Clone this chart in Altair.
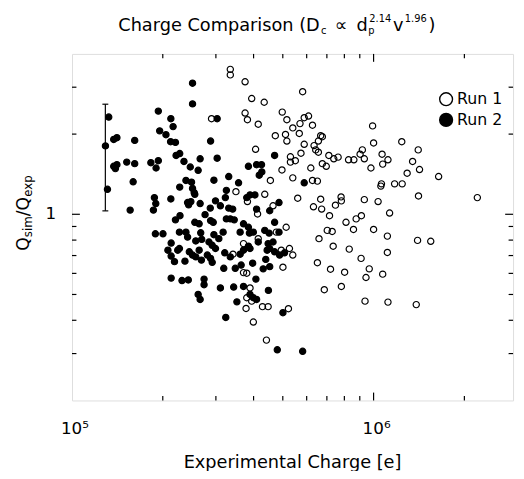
import altair as alt
import pandas as pd

# ---------------- data ----------------
run1_charge = [3.349e5, 3.349e5, 3.749e5, 3.943e5, 4.338e5, 3.749e5, 3.817e5, 4.145e5, 4.979e5, 5.158e5,
               5.396e5, 4.722e5, 5.104e5, 5.158e5, 4.062e5, 5.300e5, 5.300e5, 4.968e5, 5.396e5, 4.548e5,
               3.496e5, 4.357e5, 3.817e5, 4.641e5, 4.124e5, 5.130e5, 4.759e5, 4.145e5, 3.704e5, 5.260e5,
               2.902e5, 4.942e5, 5.396e5, 3.418e5, 3.704e5, 3.797e5, 5.005e5, 3.893e5, 3.797e5, 3.943e5,
               3.777e5, 4.282e5, 4.470e5, 5.220e5, 3.993e5, 4.413e5, 5.818e5, 5.888e5, 6.086e5, 6.272e5,
               5.701e5, 5.671e5, 6.676e5, 6.762e5, 6.561e5, 5.888e5, 6.348e5, 6.429e5, 6.561e5, 5.744e5,
               5.502e5, 7.106e5, 7.379e5, 7.627e5, 6.762e5, 6.968e5, 6.192e5, 8.260e5, 8.603e5, 9.021e5,
               9.178e5, 9.317e5, 9.925e5, 1.000e6, 1.067e6, 1.116e6, 1.072e6, 9.799e5, 1.240e6, 1.406e6,
               1.347e6, 1.420e6, 1.292e6, 1.643e6, 6.272e5, 6.512e5, 1.062e6, 1.057e6, 1.174e6, 1.244e6,
               1.409e6, 2.208e6, 5.603e5, 6.676e5, 6.319e5, 6.727e5, 7.802e5, 7.819e5, 7.473e5, 9.317e5,
               1.035e6, 7.143e5, 8.101e5, 8.754e5, 9.111e5, 1.130e6, 7.021e5, 7.290e5, 8.577e5, 1.000e6,
               6.592e5, 1.111e6, 1.399e6, 1.547e6, 7.345e5, 8.304e5, 1.111e6, 9.090e5, 6.512e5, 7.198e5,
               8.016e5, 9.674e5, 9.437e5, 1.072e6, 6.864e5, 7.819e5, 9.367e5, 1.116e6, 1.385e6]
run1_ratio = [3.500, 3.337, 3.144, 2.720, 2.634, 2.399, 2.265, 2.178, 2.419, 2.265,
              2.110, 1.972, 1.994, 1.884, 1.754, 1.644, 1.570, 1.467, 1.370, 1.340,
              1.216, 1.189, 1.116, 1.076, 1.003, 0.894, 0.857, 0.810, 0.776, 0.744,
              2.285, 0.733, 0.703, 0.708, 0.604, 0.601, 0.633, 0.529, 0.486, 0.472,
              0.443, 0.450, 0.450, 0.442, 0.394, 0.337, 2.886, 2.304, 2.338, 2.160,
              2.190, 2.011, 1.972, 1.955, 1.884, 1.831, 1.811, 1.745, 1.710, 1.696,
              1.589, 1.663, 1.616, 1.639, 1.549, 1.514, 1.492, 1.602, 1.602, 1.681,
              1.745, 1.616, 2.147, 1.853, 1.681, 1.602, 1.543, 1.492, 1.873, 1.745,
              1.579, 1.472, 1.426, 1.386, 1.340, 1.332, 1.301, 1.276, 1.301, 1.301,
              1.172, 1.155, 1.149, 1.139, 1.067, 1.046, 1.162, 1.123, 1.082, 1.135,
              1.116, 0.988, 0.933, 0.961, 0.988, 1.011, 0.870, 0.862, 0.877, 0.877,
              0.810, 0.828, 0.798, 0.792, 0.759, 0.740, 0.719, 0.683, 0.658, 0.622,
              0.606, 0.624, 0.579, 0.596, 0.521, 0.536, 0.472, 0.468, 0.458]

run2_charge = [2.510e5, 2.510e5, 1.324e5, 1.933e5, 2.127e5, 2.164e5, 1.953e5, 2.049e5, 1.375e5, 1.409e5,
               1.291e5, 1.614e5, 2.123e5, 2.203e5, 2.881e5, 3.029e5, 2.214e5, 2.276e5, 2.660e5, 3.029e5,
               2.351e5, 1.375e5, 1.409e5, 1.393e5, 1.519e5, 1.614e5, 1.826e5, 1.933e5, 1.900e5, 2.467e5,
               2.620e5, 1.595e5, 1.311e5, 2.387e5, 2.491e5, 2.955e5, 3.309e5, 3.567e5, 2.276e5, 2.510e5,
               2.542e5, 2.554e5, 1.876e5, 1.896e5, 1.862e5, 2.127e5, 1.559e5, 2.417e5, 2.478e5, 2.436e5,
               2.660e5, 2.991e5, 3.105e5, 3.250e5, 3.225e5, 3.309e5, 3.410e5, 2.874e5, 2.762e5, 2.881e5,
               2.940e5, 3.250e5, 3.349e5, 3.451e5, 2.203e5, 2.281e5, 2.554e5, 2.640e5, 3.797e5, 3.893e5,
               4.041e5, 3.846e5, 4.093e5, 4.250e5, 4.177e5, 4.260e5, 4.697e5, 4.093e5, 3.704e5, 3.846e5,
               4.697e5, 3.993e5, 3.875e5, 4.357e5, 4.504e5, 1.890e5, 2.003e5, 2.271e5, 2.387e5, 2.417e5,
               2.672e5, 2.955e5, 3.170e5, 3.610e5, 2.132e5, 2.573e5, 2.846e5, 4.470e5, 4.641e5, 2.692e5,
               4.145e5, 2.080e5, 2.132e5, 2.187e5, 2.242e5, 2.271e5, 2.449e5, 2.510e5, 2.573e5, 2.369e5,
               2.686e5, 2.810e5, 2.881e5, 2.917e5, 2.917e5, 2.991e5, 3.210e5, 3.349e5, 3.610e5, 3.704e5,
               3.846e5, 3.893e5, 3.478e5, 3.638e5, 3.972e5, 3.186e5, 4.305e5, 4.524e5, 4.390e5, 4.697e5,
               4.879e5, 5.066e5, 4.437e5, 4.524e5, 2.132e5, 2.316e5, 2.430e5, 2.741e5, 2.741e5, 3.105e5,
               3.436e5, 3.704e5, 4.072e5, 2.620e5, 2.660e5, 3.522e5, 3.893e5, 3.993e5, 4.093e5, 4.480e5,
               5.005e5, 3.235e5, 4.794e5, 5.818e5, 5.888e5, 4.857e5, 4.857e5, 3.068e5, 2.640e5, 4.524e5]
run2_ratio = [3.106, 2.597, 2.318, 2.440, 2.285, 2.134, 2.057, 1.989, 1.910, 1.939,
              1.806, 1.894, 1.873, 1.862, 1.884, 2.285, 1.663, 1.691, 1.616, 1.624,
              1.579, 1.514, 1.535, 1.484, 1.570, 1.549, 1.562, 1.589, 1.492, 1.505,
              1.463, 1.324, 1.241, 1.340, 1.320, 1.343, 1.386, 1.313, 1.265, 1.251,
              1.205, 1.189, 1.155, 1.097, 1.037, 1.142, 1.037, 1.107, 1.116, 1.085,
              1.097, 1.123, 1.076, 1.230, 1.155, 1.055, 1.046, 1.055, 0.997, 0.947,
              0.933, 0.961, 0.961, 0.953, 0.953, 0.988, 0.933, 0.921, 1.155, 1.182,
              1.182, 1.514, 1.535, 1.535, 1.402, 1.442, 1.663, 1.046, 0.921, 0.894,
              0.933, 0.857, 0.850, 0.870, 0.850, 0.845, 0.845, 0.857, 0.857, 0.821,
              0.852, 0.838, 0.857, 0.857, 0.780, 0.794, 0.787, 0.776, 0.787, 0.805,
              0.787, 0.733, 0.697, 0.664, 0.733, 0.744, 0.723, 0.703, 0.692, 0.667,
              0.673, 0.703, 0.683, 0.660, 0.765, 0.744, 0.717, 0.692, 0.708, 0.733,
              0.759, 0.744, 0.627, 0.645, 0.655, 0.627, 0.624, 0.636, 0.677, 0.723,
              0.703, 0.717, 0.733, 0.744, 0.576, 0.564, 0.567, 0.571, 0.544, 0.529,
              0.533, 0.536, 0.571, 0.500, 0.479, 0.469, 0.500, 0.486, 0.479, 0.518,
              0.427, 0.410, 0.310, 0.306, 1.313, 1.107, 0.857, 0.810, 0.733, 1.031]

run_labels = ["Run 1", "Run 2"]

errbar_charge = [1.29e5]
errbar_low = [1.03]
errbar_high = [2.59]

x_major_ticks = [1e6]
x_minor_ticks = [2e5, 3e5, 4e5, 5e5, 6e5, 7e5, 8e5, 9e5, 2e6]
y_major_ticks = [1.0]
y_minor_ticks = [0.3, 0.4, 0.5, 0.6, 0.7, 0.8, 0.9, 2.0, 3.0]
x_edges = [1e5, 2.9e6]
y_edges = [0.2, 4.0]
x_title = "Experimental Charge [e]"

# ---------------- layout ----------------
W, H = 448, 352
FONT = "DejaVu Sans"
xs = alt.Scale(type="log", domain=x_edges, nice=False)
ys = alt.Scale(type="log", domain=y_edges, nice=False)

df = pd.DataFrame({
    "charge": run1_charge + run2_charge,
    "ratio": run1_ratio + run2_ratio,
    "run": [run_labels[0]] * len(run1_charge) + [run_labels[1]] * len(run2_charge),
})

points = alt.Chart(df).mark_point(
    shape="circle", filled=True, size=40, stroke="black", strokeWidth=1.2, opacity=1
).encode(
    x=alt.X("charge:Q", scale=xs, axis=None),
    y=alt.Y("ratio:Q", scale=ys, axis=None),
    fill=alt.Fill("run:N", scale=alt.Scale(domain=run_labels, range=["transparent", "black"]),
                  legend=alt.Legend(title=None, orient="none", legendX=372, legendY=38,
                                    symbolType="circle", symbolSize=170, symbolStrokeColor="black",
                                    symbolStrokeWidth=1.4, labelFontSize=16, labelFont=FONT,
                                    labelColor="black", labelOffset=3, rowPadding=1, padding=0)),
)

MAJ, MIN = 8, 4.5


def xticks(vals, edge, length, down):
    off = length / 2 if down else -length / 2
    return alt.Chart(pd.DataFrame({"v": vals})).mark_tick(
        orient="vertical", size=length, thickness=1.2, color="black", opacity=1, yOffset=off
    ).encode(x=alt.X("v:Q", scale=xs, axis=None), y=alt.datum(edge, scale=ys, axis=None))


def yticks(vals, edge, length, right):
    off = length / 2 if right else -length / 2
    return alt.Chart(pd.DataFrame({"v": vals})).mark_tick(
        orient="horizontal", size=length, thickness=1.2, color="black", opacity=1, xOffset=off
    ).encode(y=alt.Y("v:Q", scale=ys, axis=None), x=alt.datum(edge, scale=xs, axis=None))


ticks = [
    xticks(x_major_ticks, y_edges[0], MAJ, False), xticks(x_minor_ticks, y_edges[0], MIN, False),
    xticks(x_major_ticks, y_edges[1], MAJ, True), xticks(x_minor_ticks, y_edges[1], MIN, True),
    yticks(y_major_ticks, x_edges[0], MAJ, True), yticks(y_minor_ticks, x_edges[0], MIN, True),
    yticks(y_major_ticks, x_edges[1], MAJ, False), yticks(y_minor_ticks, x_edges[1], MIN, False),
]

edf = pd.DataFrame({"x": errbar_charge, "lo": errbar_low, "hi": errbar_high})
ebar = alt.Chart(edf).mark_rule(color="black", strokeWidth=1.2).encode(
    x=alt.X("x:Q", scale=xs, axis=None), y=alt.Y("lo:Q", scale=ys, axis=None), y2="hi:Q")
ecap_lo = alt.Chart(edf).mark_tick(orient="horizontal", size=6, thickness=1.2, color="black", opacity=1).encode(
    x=alt.X("x:Q", scale=xs, axis=None), y=alt.Y("lo:Q", scale=ys, axis=None))
ecap_hi = alt.Chart(edf).mark_tick(orient="horizontal", size=6, thickness=1.2, color="black", opacity=1).encode(
    x=alt.X("x:Q", scale=xs, axis=None), y=alt.Y("hi:Q", scale=ys, axis=None))

one = pd.DataFrame({"k": [0]})


def txt(s, x, y, size, angle=0, align="left", baseline="alphabetic"):
    kw = dict(text=s, fontSize=size, font=FONT, align=align, baseline=baseline, color="black")
    if angle:
        kw["angle"] = angle
    return alt.Chart(one).mark_text(**kw).encode(x=alt.value(x), y=alt.value(y))


MAIN, SUB = 18, 10
title = [
    txt("Charge Comparison (D", 47, -23, MAIN),
    txt("c", 253, -20.5, SUB),
    txt("∝", 267, -23, MAIN),
    txt("d", 289, -23, MAIN),
    txt("p", 301, -20.5, SUB),
    txt("2.14", 302, -32, SUB),
    txt("v", 326, -23, MAIN),
    txt("1.96", 338, -32, SUB),
    txt(")", 362, -23, MAIN),
]

YM, YS = 17.5, 12
ytitle = [
    txt("Q", -44, 200, YM, 270),
    txt("sim", -40.5, 186.2, YS, 270),
    txt("/", -44, 164.9, YM, 270),
    txt("Q", -44, 159, YM, 270),
    txt("exp", -40.5, 145.2, YS, 270),
]

# tick labels and axis title (annotation text)
labels = [
    txt("10⁵", 3, H + 34, 17, align="center"),
    txt("10⁶", 309.4, H + 34, 17, align="center"),
    txt("1", -16, 162.9, 17, align="right", baseline="middle"),
    txt(x_title, W / 2, H + 69, 18, align="center"),
]

chart = alt.layer(points, *ticks, ebar, ecap_lo, ecap_hi, *title, *ytitle, *labels).properties(
    width=W, height=H,
    padding={"left": 65, "top": 43, "right": 3, "bottom": 68},
    autosize=alt.AutoSizeParams(type="none"),
).configure_view(stroke="black", strokeWidth=1.3).configure(font=FONT)

chart.save("out.html", embed_options={"renderer": "svg", "actions": False})
